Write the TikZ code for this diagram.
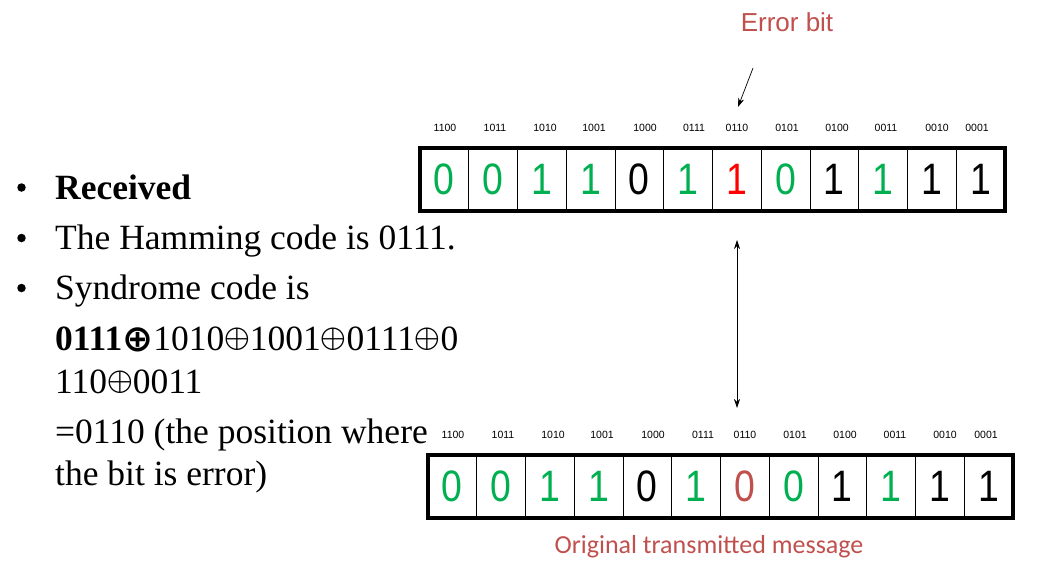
\documentclass[tikz,border=0pt]{standalone}
\usepackage{fontspec}
\usepackage{unicode-math}
\setmainfont{Liberation Serif}
\setmathfont{Latin Modern Math}
\newfontfamily\arialish{Liberation Sans}
\newfontfamily\calibrish{Carlito}
\newfontfamily\symfont{DejaVu Sans}
\usetikzlibrary{arrows.meta}
\definecolor{bitgreen}{HTML}{00B050}
\definecolor{bitred}{HTML}{FF0000}
\definecolor{softred}{HTML}{C0504D}
\newcommand{\bigdigit}[1]{\scalebox{0.85}[1]{\arialish\fontsize{44}{44}\selectfont #1}}
\newcommand{\xorsym}{\raisebox{2.5pt}{\fontsize{33}{33}\selectfont$\oplus$}}
\newcommand{\xorbold}{\raisebox{-1pt}{\symfont\bfseries\fontsize{37}{37}\selectfont ⊕}}
\begin{document}
\begin{tikzpicture}[x=1pt,y=-1pt,
  cell/.style={draw, line width=0.8pt, minimum width=48.75pt, minimum height=63pt, inner sep=0pt, anchor=center},
  poslabel/.style={font=\arialish\fontsize{10.5}{10.5}\selectfont, inner sep=0pt, anchor=center},
  frame/.style={draw, line width=4pt},
  body/.style={anchor=base west, inner sep=0pt, font=\fontsize{35.5}{40}\selectfont},
  bul/.style={circle, fill=black, inner sep=0pt, minimum size=8.5pt},
  arr/.style={-{Stealth[length=9pt,width=6pt]}, line width=0.7pt},
  darr/.style={{Stealth[length=9pt,width=6pt]}-{Stealth[length=9pt,width=6pt]}, line width=0.7pt}]
\useasboundingbox (0,0) rectangle (1059,574);

% received word
\foreach \d/\c [count=\i] in {0/bitgreen,0/bitgreen,1/bitgreen,1/bitgreen,0/black,1/bitgreen,1/bitred,0/bitgreen,1/black,1/bitgreen,1/black,1/black}
  \node[cell, text=\c] (t\i) at ({420+48.75*(\i-0.5)},179.5) {\bigdigit{\d}};
\draw[frame] (t1.north west) rectangle (t12.south east);
\foreach \l/\x [count=\i] in {1100/445,1011/495,1010/545,1001/594,1000/645,0111/694,0110/737,0101/787,0100/837,0011/886,0010/937,0001/977}
  \node[poslabel] (tl\i) at (\x,128) {\l};

% transmitted word
\foreach \d/\c [count=\i] in {0/bitgreen,0/bitgreen,1/bitgreen,1/bitgreen,0/black,1/bitgreen,0/softred,0/bitgreen,1/black,1/bitgreen,1/black,1/black}
  \node[cell, text=\c] (b\i) at ({428+48.75*(\i-0.5)},486.5) {\bigdigit{\d}};
\draw[frame] (b1.north west) rectangle (b12.south east);
\foreach \l/\x [count=\i] in {1100/453,1011/503,1010/553,1001/602,1000/653,0111/703,0110/745,0101/795,0100/845,0011/895,0010/945,0001/986}
  \node[poslabel] (bl\i) at (\x,435) {\l};

% error marker
\node[font=\arialish\fontsize{26}{26}\selectfont, text=softred, inner sep=0pt] (err) at (787,22) {Error bit};
\coordinate (errtail) at (753,68);
\coordinate (errtip) at (738,107);
\draw[arr] (errtail) -- (errtip);

% correspondence between the two words
\coordinate (linkup) at (737,240);
\coordinate (linkdown) at (737,408);
\draw[darr] (linkup) -- (linkdown);

\node[font=\calibrish\fontsize{26}{26}\selectfont, text=softred, inner sep=0pt] (orig) at (709,547) {Original transmitted message};

% explanation text
\node[bul] (bu1) at (21.5,187.5) {};
\node[bul] (bu2) at (21.5,238) {};
\node[bul] (bu3) at (21.5,288) {};
\node[body] (l1) at (55,199) {\textbf{Received}};
\node[body] (l2) at (55,249) {The Hamming code is 0111.};
\node[body] (l3) at (55,299) {Syndrome code is};
\node[body] (l4) at (55,350) {\textbf{0111}\xorbold 1010\xorsym 1001\xorsym 0111\xorsym 0};
\node[body] (l5) at (55,393) {110\xorsym 0011};
\node[body] (l6) at (55,443) {=0110 (the position where};
\node[body] (l7) at (55,485) {the bit is error)};
\end{tikzpicture}
\end{document}
